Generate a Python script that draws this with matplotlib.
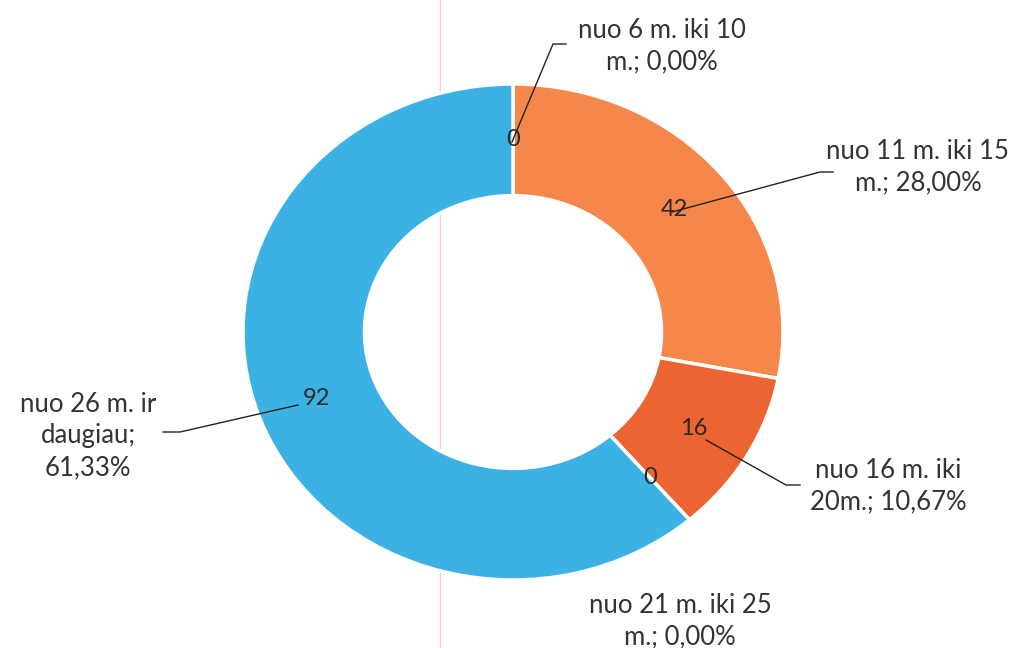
import matplotlib
matplotlib.use("Agg")
import matplotlib.pyplot as plt

categories = ["nuo 6 m. iki 10\nm.; 0,00%",
              "nuo 11 m. iki 15\nm.; 28,00%",
              "nuo 16 m. iki\n20m.; 10,67%",
              "nuo 21 m. iki 25\nm.; 0,00%",
              "nuo 26 m. ir\ndaugiau;\n61,33%"]
values = [0, 42, 16, 0, 92]
colors = ["#4472C4", "#F5874B", "#EB6432", "#A5A5A5", "#3CB2E4"]

plt.rcParams['font.family'] = ['Lato', 'DejaVu Sans']

W, H = 1032, 648
fig = plt.figure(figsize=(W / 100, H / 100), dpi=100)
ax = fig.add_axes([0, 0, 1, 1])

# pixel geometry of the (slightly stretched) scan
cx, cy = 513, 332
rx, ry = 270, 248

def px(x, y):
    return ((x - cx) / rx, (cy - y) / ry)

total = sum(values)
wedges, texts, autotexts = ax.pie(
    values, colors=colors, startangle=90, counterclock=False,
    radius=1.0, wedgeprops=dict(width=0.45, edgecolor="white", linewidth=2.5),
    autopct=lambda p: f"{round(p * total / 100):d}", pctdistance=0.775,
    textprops=dict(fontsize=17, color="#2a2a2a"))
ax.set_aspect('auto')
ax.set_xlim(-cx / rx, (W - cx) / rx)
ax.set_ylim((cy - H) / ry, cy / ry)
ax.axis('off')

# faint scan artefact line
ax.plot([px(440, 0)[0], px(440, 648)[0]], [px(440, 0)[1], px(440, 648)[1]],
        color="#f5cdd2", lw=0.9, zorder=0)

# category labels (text centre in pixels) and leader lines (pixel path)
label_pos = [(662, 46), (918, 167), (888, 486), (680, 621), (88, 436)]
leaders = [
    [(512, 142), (553, 44), (566, 44)],
    [(672, 212), (820, 172), (833, 172)],
    [(706, 440), (786, 485), (800, 485)],
    None,
    [(298, 405), (180, 432), (163, 432)],
]
for cat, (lx, ly), path in zip(categories, label_pos, leaders):
    ax.text(*px(lx, ly), cat, ha="center", va="center", fontsize=18.5,
            color="#333333", linespacing=1.32)
    if path:
        xs, ys = zip(*[px(x, y) for x, y in path])
        ax.plot(xs, ys, color="#222222", lw=1.0, zorder=5)

fig.savefig("out.png", dpi=100, facecolor="white")
